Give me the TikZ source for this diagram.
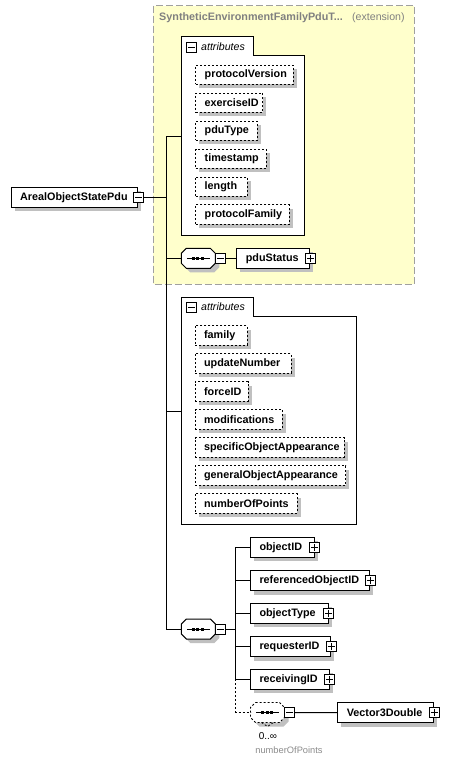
\documentclass[tikz,border=0pt]{standalone}
\usepackage{fontspec}
\setmainfont{Liberation Sans}
\usetikzlibrary{calc}
\definecolor{shgray}{RGB}{192,192,192}
\definecolor{extyellow}{RGB}{255,255,204}
\definecolor{extborder}{RGB}{160,160,160}
\definecolor{titlegray}{RGB}{128,128,128}
\definecolor{notegray}{RGB}{140,140,140}
\newcommand\bfont{\fontsize{10.8pt}{12pt}\selectfont\bfseries}
\newcommand\ifont{\fontsize{10.6pt}{12pt}\selectfont\itshape}
\newcommand\rfont{\fontsize{10.6pt}{12pt}\selectfont}
\tikzset{
  conn/.style={line width=1pt},
  elbox/.style={draw, fill=white, line width=1pt, minimum height=20pt, inner ysep=0pt,
    inner xsep=9pt, align=left, anchor=west, font=\bfont},
  attbox/.style={elbox, line width=0.8pt, dash pattern=on 2pt off 2pt, minimum height=19.3pt},
  icon/.style={draw, fill=white, line width=0.8pt, minimum size=10pt, inner sep=0pt},
  plusicon/.style={icon, path picture={\draw[line width=0.8pt]
      ([xshift=-3.5pt]path picture bounding box.center) -- ([xshift=3.5pt]path picture bounding box.center)
      ([yshift=-3.5pt]path picture bounding box.center) -- ([yshift=3.5pt]path picture bounding box.center);}},
  minusicon/.style={icon, path picture={\draw[line width=0.8pt]
      ([xshift=-3.5pt]path picture bounding box.center) -- ([xshift=3.5pt]path picture bounding box.center);}},
}
% element with shadow: #1 style, #2 name, #3 x, #4 cy, #5 text width, #6 half height, #7 text
\newcommand\elem[7]{%
  \fill[shgray] (#3+4,#4-#6+4) rectangle (#3+#5+22,#4+#6+4);
  \node[#1, text width=#5pt] (#2) at (#3,#4) {#7};}
% sequence compositor: #1 name, #2 x, #3 y (top-left), #4 border style
\newcommand\seqnode[4]{%
  \begin{scope}[shift={(#2,#3)}]
    \fill[shgray, shift={(4,4)}] (5,0) -- (29,0) -- (34,5) -- (34,15) -- (29,20) -- (5,20) -- (0,15) -- (0,5) -- cycle;
    \draw[fill=white, #4] (5,0) -- (29,0) -- (34,5) -- (34,15) -- (29,20) -- (5,20) -- (0,15) -- (0,5) -- cycle;
    \node[minimum width=34pt, minimum height=20pt, inner sep=0pt, outer sep=0pt] (#1) at (17,10) {};
    \draw[line width=1pt] (5.5,10) -- (28.5,10);
    \foreach \dx in {12,16.5,21} \fill (\dx-1.5,8.5) rectangle (\dx+1.5,11.5);
  \end{scope}}
\begin{document}
\begin{tikzpicture}[x=1pt,y=-1pt]
\useasboundingbox (0,0) rectangle (462,763);
\fill[white] (0,0) rectangle (462,763);
% extension box
\draw[extborder, fill=extyellow, line width=1.2pt, dash pattern=on 7pt off 3pt] (153.3,5.7) rectangle (414.3,284.3);
\node[anchor=west, inner sep=0pt, text=titlegray, font=\bfont] (exttitle) at (159,18) {SyntheticEnvironmentFamilyPduT...};
\node[anchor=west, inner sep=0pt, text=titlegray, font=\rfont] (extlabel) at (352,18) {(extension)};

% attributes container 1
\draw[fill=white, line width=1pt] (181.7,36.7) -- (253,36.7) -- (253,55) -- (304.3,55) -- (304.3,235.3) -- (181.7,235.3) -- cycle;
\node[minusicon] (att1m) at (191.5,47) {};
\node[anchor=west, inner sep=0pt, font=\ifont] (att1t) at (201,47) {attributes};
\coordinate (att1w) at (181.7,136.3);

\elem{attbox}{protocolVersion}{195.3}{74.7}{79.4}{9.65}{protocolVersion}
\elem{attbox}{exerciseID}{195.3}{102.7}{49}{9.65}{exerciseID}
\elem{attbox}{pduType}{195.3}{130.7}{43.4}{9.65}{pduType}
\elem{attbox}{timestamp}{195.3}{158.7}{52.4}{9.65}{timestamp}
\elem{attbox}{length}{195.3}{186.7}{33.7}{9.65}{length}
\elem{attbox}{protocolFamily}{195.3}{214.5}{75.7}{9.65}{protocolFamily}

% attributes container 2
\draw[fill=white, line width=1pt] (181.3,297.3) -- (253.3,297.3) -- (253.3,316) -- (356.7,316) -- (356.7,524.3) -- (181.3,524.3) -- cycle;
\node[minusicon] (att2m) at (191.3,307) {};
\node[anchor=west, inner sep=0pt, font=\ifont] (att2t) at (201,307) {attributes};
\coordinate (att2w) at (181.3,411.7);

\elem{attbox}{family}{194.7}{335.3}{34}{9.65}{family}
\elem{attbox}{updateNumber}{194.7}{363.3}{78}{9.65}{updateNumber}
\elem{attbox}{forceID}{194.7}{391.3}{35}{9.65}{forceID}
\elem{attbox}{modifications}{194.7}{419.3}{69.3}{9.65}{modifications}
\elem{attbox}{specificObjectAppearance}{194.7}{447.3}{131.3}{9.65}{specificObjectAppearance}
\elem{attbox}{generalObjectAppearance}{194.7}{475.3}{132.6}{9.65}{generalObjectAppearance}
\elem{attbox}{numberOfPoints}{194.7}{503.3}{84}{9.65}{numberOfPoints}

% root element
\elem{elbox}{root}{10.7}{197.3}{108.6}{10}{ArealObjectStatePdu}
\node[minusicon] (rootm) at (root.east) {};

% sequence 1 with pduStatus
\seqnode{seq1}{181.3}{248.3}{line width=1pt}
\node[minusicon] (seq1m) at ([xshift=5pt]seq1.east) {};
\elem{elbox}{pduStatus}{236.3}{258.3}{55}{10}{pduStatus}
\node[plusicon] (pduStatusp) at (pduStatus.east) {};

% sequence 2
\seqnode{seq2}{181.3}{619}{line width=1pt}
\node[minusicon] (seq2m) at ([xshift=5pt]seq2.east) {};

\elem{elbox}{objectID}{250}{547.3}{45.7}{10}{objectID}
\node[plusicon] (objectIDp) at (objectID.east) {};
\elem{elbox}{referencedObjectID}{250}{580.7}{101.3}{10}{referencedObjectID}
\node[plusicon] (referencedObjectIDp) at (referencedObjectID.east) {};
\elem{elbox}{objectType}{250}{613.3}{59.7}{10}{objectType}
\node[plusicon] (objectTypep) at (objectType.east) {};
\elem{elbox}{requesterID}{250}{646.7}{62}{10}{requesterID}
\node[plusicon] (requesterIDp) at (requesterID.east) {};
\elem{elbox}{receivingID}{250}{679.3}{60.7}{10}{receivingID}
\node[plusicon] (receivingIDp) at (receivingID.east) {};

% repeating sequence
\seqnode{seq3}{250.5}{702.5}{line width=0.8pt, dash pattern=on 2pt off 2pt}
\draw[line width=0.8pt, dash pattern=on 2pt off 2pt] (seq3.south) ++(-6,0) -- ++(6,4) -- ++(6,-4);
\node[minusicon] (seq3m) at ([xshift=5pt]seq3.east) {};
\elem{elbox}{Vector3Double}{337.3}{712.7}{78}{10}{Vector3Double}
\node[plusicon] (Vector3Doublep) at (Vector3Double.east) {};
\node[inner sep=0pt, font=\fontsize{10pt}{12pt}\selectfont] (occurs) at (268,736) {0..∞};
\node[inner sep=0pt, text=notegray, font=\fontsize{9.3pt}{11pt}\selectfont] (seq3note) at (289,750) {numberOfPoints};

% connectors
\coordinate (trunkTop) at (166,136.3);
\coordinate (trunkBot) at (166,629);
\draw[conn] (trunkTop) -- (trunkBot);
\draw[conn] (rootm.east) -- (rootm.east -| trunkTop);
\draw[conn] (trunkTop) -- (att1w);
\draw[conn] (att2w -| trunkTop) -- (att2w);
\draw[conn] (seq1.west -| trunkTop) -- (seq1.west);
\draw[conn] (seq1m.east) -- (pduStatus.west);
\draw[conn] (trunkBot) -- (seq2.west);

\coordinate (combTop) at (235.7,547.3);
\coordinate (combMid) at (235.7,679.3);
\draw[conn] (combTop) -- (combMid);
\draw[conn] (seq2m.east) -- (seq2m.east -| combTop);
\draw[conn] (combTop) -- (objectID.west);
\draw[conn] (referencedObjectID.west -| combTop) -- (referencedObjectID.west);
\draw[conn] (objectType.west -| combTop) -- (objectType.west);
\draw[conn] (requesterID.west -| combTop) -- (requesterID.west);
\draw[conn] (combMid) -- (receivingID.west);
\draw[line width=0.8pt, dash pattern=on 2pt off 2pt] (combMid) |- (seq3.west);
\draw[conn] (seq3m.east) -- (Vector3Double.west);
\end{tikzpicture}
\end{document}
